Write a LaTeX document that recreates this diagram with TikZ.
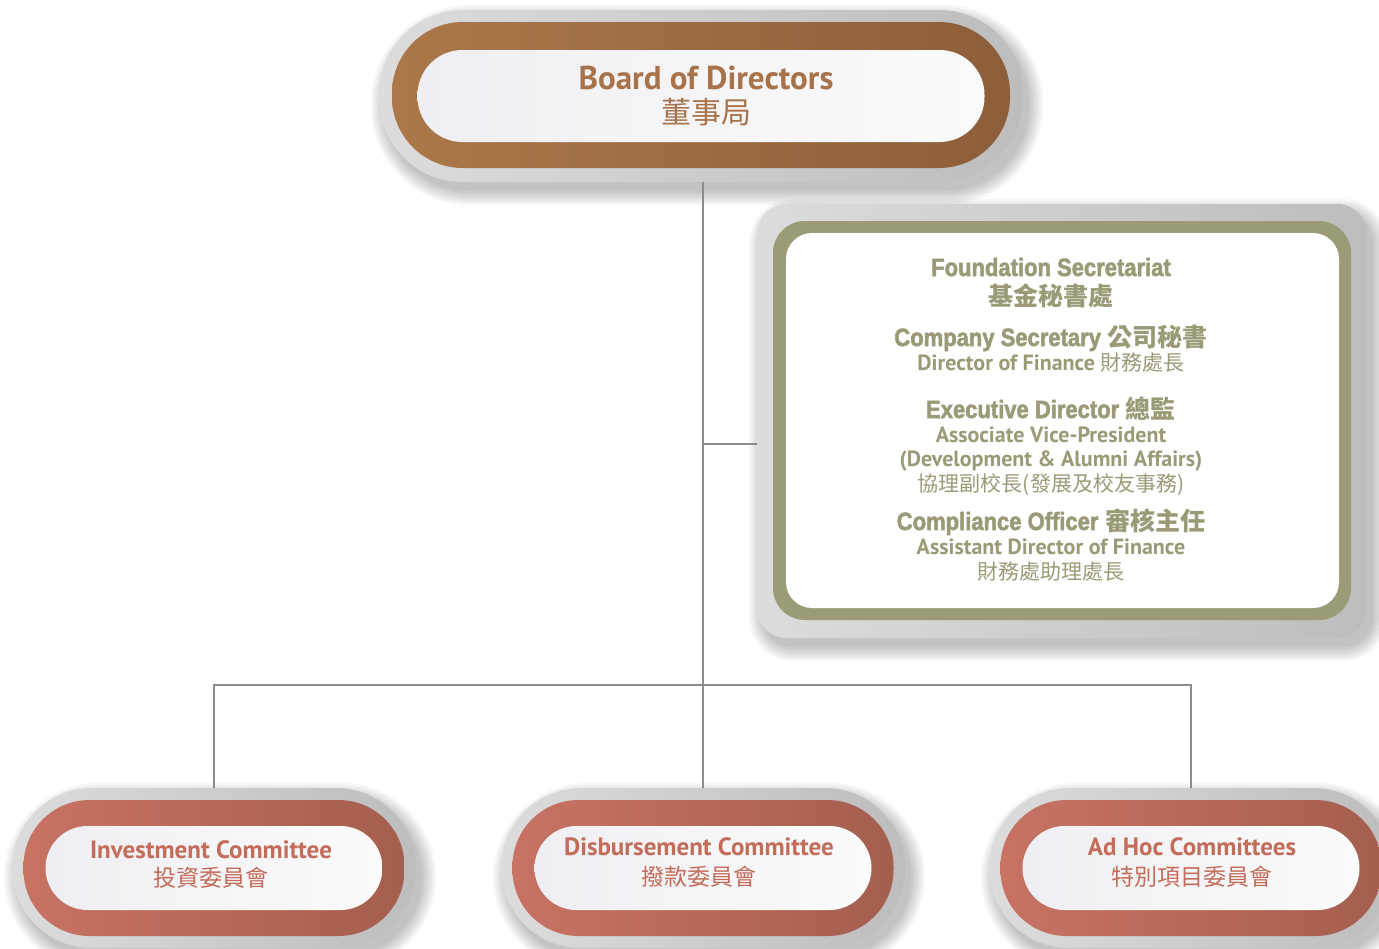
\documentclass[tikz,border=0pt]{standalone}
\usepackage{fontspec}
\setmainfont{PT Sans}
\newfontfamily\cjk{Noto Sans CJK TC}
\newfontfamily\cond{Liberation Sans}[UprightFont={* Bold}, FakeBold=2.2]
\definecolor{brownL}{HTML}{AB7849}
\definecolor{brownD}{HTML}{8D5E3A}
\definecolor{brownT}{HTML}{A8734A}
\definecolor{redL}{HTML}{C87363}
\definecolor{redD}{HTML}{A55E4E}
\definecolor{redT}{HTML}{C46C5A}
\definecolor{oliveC}{HTML}{9C9B78}
\definecolor{oliveT}{HTML}{9B9A77}
\definecolor{lineC}{HTML}{8C8C8C}
\definecolor{haloL}{HTML}{DCDCDC}
\definecolor{haloD}{HTML}{BDBDBD}
\definecolor{whiteL}{HTML}{EFEEF2}
\definecolor{whiteR}{HTML}{FBFBFC}
\newcommand\softshadow[5]{%
  \foreach \k in {0,...,7}{%
    \fill[black,opacity=0.03,rounded corners={(#5+2*\k)*1pt}]
      ({#1+6-(#3)/2-2*\k},{#2+9-(#4)/2-2*\k}) rectangle ({#1+6+(#3)/2+2*\k},{#2+9+(#4)/2+2*\k});
  }}
\tikzset{
  box/.style={shape=rectangle, inner sep=0pt, draw=none},
  halo/.style={box, left color=haloL, right color=haloD, rounded corners=#1},
  brownring/.style={box, left color=brownL, right color=brownD, rounded corners=#1},
  redring/.style={box, left color=redL, right color=redD, rounded corners=#1},
  olivering/.style={box, fill=oliveC, rounded corners=#1},
  inner/.style={box, left color=whiteL, right color=whiteR, rounded corners=#1},
  plain/.style={box, fill=white, rounded corners=#1},
  conn/.style={draw=lineC, line width=2.4pt},
  lbl/.style={inner sep=0pt, anchor=base},
  bigtxt/.style={lbl, text=brownT, font=\bfseries\fontsize{33}{36}\selectfont},
  bigcjk/.style={lbl, text=brownT, font=\cjk\fontsize{30}{34}\selectfont},
  comtxt/.style={lbl, text=redT, font=\bfseries\fontsize{25}{28}\selectfont},
  comcjk/.style={lbl, text=redT, font=\cjk\fontsize{23}{26}\selectfont},
  sectitle/.style={lbl, text=oliveT, font=\fontsize{25}{28}\selectfont},
  secsub/.style={lbl, text=oliveT, font=\bfseries\fontsize{22}{24}\selectfont},
  seccjk/.style={lbl, text=oliveT, font=\cjk\fontsize{21}{24}\selectfont},
}
\newcommand\ctitle[1]{\scalebox{0.88}[1]{\cond #1}}
\newcommand\tcjkb[1]{{\cjk\bfseries #1}}
\newcommand\tcjk[1]{{\cjk\mdseries\fontsize{21}{24}\selectfont #1}}
\begin{document}
\begin{tikzpicture}[x=1pt,y=-1pt]
\useasboundingbox (0,0) rectangle (1379,948);
\fill[white] (0,0) rectangle (1379,948);

% ---------- top: board ----------
\softshadow{701}{96}{644}{172}{84}
\node[halo=84pt, minimum width=644pt, minimum height=172pt] (boardhalo) at (701,96) {};
\node[brownring=71pt, minimum width=618pt, minimum height=146pt] (boardring) at (701,95) {};
\node[inner=45pt, minimum width=567pt, minimum height=92pt] (board) at (701,96) {};
\node[bigtxt] (boardEn) at (706,89) {Board of Directors};
\node[bigcjk] (boardZh) at (706,123) {董事局};

% ---------- secretariat ----------
\softshadow{1062}{421}{610}{434}{30}
\node[halo=30pt, minimum width=610pt, minimum height=434pt] (sechalo) at (1062,421) {};
\node[olivering=32pt, minimum width=578pt, minimum height=399pt] (secring) at (1062,420.5) {};
\node[plain=26pt, minimum width=553pt, minimum height=375pt] (sec) at (1062.5,420.5) {};
\node[sectitle] (s1) at (1051,276) {\ctitle{Foundation Secretariat}};
\node[sectitle] (s2) at (1051,305) {\tcjkb{基金秘書處}};
\node[sectitle] (s3) at (1051,346) {\ctitle{Company Secretary} \tcjkb{公司秘書}};
\node[secsub] (s4) at (1051,370.5) {Director of Finance \tcjk{財務處長}};
\node[sectitle] (s5) at (1051,418) {\ctitle{Executive Director} \tcjkb{總監}};
\node[secsub] (s6) at (1051,442.5) {Associate Vice-President};
\node[secsub] (s7) at (1051,466.5) {(Development \& Alumni Affairs)};
\node[seccjk] (s8) at (1051,491) {協理副校長(發展及校友事務)};
\node[sectitle] (s9) at (1051,530) {\ctitle{Compliance Officer} \tcjkb{審核主任}};
\node[secsub] (s10) at (1051,554.5) {Assistant Director of Finance};
\node[seccjk] (s11) at (1051,579) {財務處助理處長};

% ---------- committees ----------
\foreach \cx/\nm in {214/inv, 703/dis, 1191/adh}{
  \softshadow{\cx}{868}{404}{160}{80}
  \node[halo=80pt, minimum width=404pt, minimum height=160pt] (\nm halo) at (\cx,868) {};
  \node[redring=66pt, minimum width=381pt, minimum height=136pt] (\nm ring) at (\cx,868) {};
  \node[inner=42pt, minimum width=337pt, minimum height=84pt] (\nm) at (\cx,868) {};
}
\node[comtxt] (invEn) at (211,858) {Investment Committee};
\node[comcjk] (invZh) at (211,886) {投資委員會};
\node[comtxt] (disEn) at (699,855) {Disbursement Committee};
\node[comcjk] (disZh) at (699,885) {撥款委員會};
\node[comtxt] (adhEn) at (1192,855) {Ad Hoc Committees};
\node[comcjk] (adhZh) at (1192,885) {特別項目委員會};

% ---------- connectors ----------
\coordinate (trunk) at (boardhalo.south -| dishalo.north);
\coordinate (branch) at (703,444);
\coordinate (split) at (703,685);
\draw[conn] (trunk) -- (dishalo.north);
\draw[conn] (branch) -- (branch -| sechalo.west);
\draw[conn] (invhalo.north) -- (invhalo.north |- split) -- (adhhalo.north |- split) -- (adhhalo.north);
\end{tikzpicture}
\end{document}
